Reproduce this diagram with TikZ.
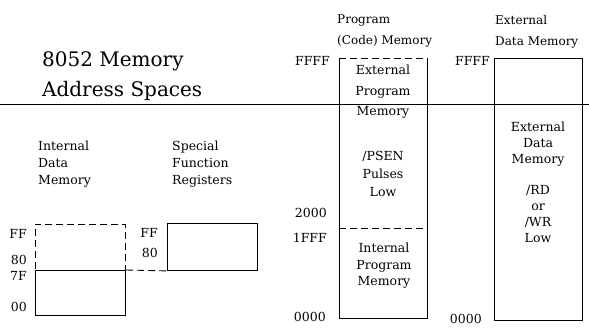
\documentclass[tikz,border=0pt]{standalone}
\usepackage{fontspec}
\setmainfont{DejaVu Serif}
\usetikzlibrary{positioning}
\tikzset{
  lbl/.style={align=left,inner sep=0pt,anchor=north west,font=\fontsize{12.5}{17}\selectfont},
  boxtxt/.style={align=center,inner sep=0pt,font=\fontsize{12.5}{#1}\selectfont},
  addr/.style={anchor=east,inner sep=0pt,font=\fontsize{12.5}{15}\selectfont},
  membox/.style={inner sep=0pt,anchor=north west},
  edge/.style={line width=.9pt},
  dashedge/.style={edge,dash pattern=on 7pt off 4pt}
}

\begin{document}
\begin{tikzpicture}[x=1pt,y=-1pt]
  \useasboundingbox (0,0) rectangle (589,327);
  % title and rule
  \node[anchor=base west,inner sep=0pt,font=\fontsize{20}{30}\selectfont] (ttl1) at (42,66) {8052 Memory};
  \node[anchor=base west,inner sep=0pt,font=\fontsize{20}{30}\selectfont] (ttl2) at (42,96) {Address Spaces};
  \coordinate (ruleL) at (0,104);
  \coordinate (ruleR) at (589,104);
  \draw[edge] (ruleL) -- (ruleR);

  % headings
  \node[lbl] (idmlbl) at (38,141) {Internal\\Data\\Memory};
  \node[lbl] (sfrlbl) at (172,141) {Special\\Function\\Registers};
  \node[lbl,font=\fontsize{12}{21}\selectfont] (pgmlbl) at (337,15) {Program\\(Code) Memory};
  \node[lbl,font=\fontsize{12}{21}\selectfont] (xdmlbl) at (495,15) {External\\Data Memory};

  % internal data memory and SFR
  \node[membox,draw,dashedge,minimum width=90,minimum height=46] (idhi) at (35,224) {};
  \node[membox,draw,edge,minimum width=90,minimum height=45] (idlo) at (35,270) {};
  \node[membox,draw,edge,minimum width=90,minimum height=47] (sfr) at (167,223) {};
  \draw[dashedge] (idlo.north east) -- (sfr.south west);
  \node[addr] (idFF) at (27,234) {FF};
  \node[addr] (id80) at (27,260) {80};
  \node[addr] (id7F) at (27,276) {7F};
  \node[addr] (id00) at (27,307) {00};
  \node[addr] (sfrFF) at (158,233) {FF};
  \node[addr] (sfr80) at (158,253) {80};

  % program memory
  \node[membox,minimum width=88,minimum height=260] (pgm) at (339,58) {};
  \draw[edge] (pgm.north west) -- (pgm.south west) -- (pgm.south east) -- (pgm.north east);
  \draw[dashedge] (pgm.north west) -- (pgm.north east);
  \coordinate (split) at (339,228);
  \draw[dashedge] (pgm.west |- split) -- (pgm.east |- split);
  \node[boxtxt=20.5] (pgmext) at (383,92) {External\\Program\\Memory};
  \node[boxtxt=18] (psen) at (383,174) {/PSEN\\Pulses\\Low};
  \node[boxtxt=16.5] (pgmint) at (384,266) {Internal\\Program\\Memory};
  \node[addr] (pgmFFFF) at (330,61) {FFFF};
  \node[addr] (pgm2000) at (327,213) {2000};
  \node[addr] (pgm1FFF) at (327,238) {1FFF};
  \node[addr] (pgm0000) at (326,317) {0000};

  % external data memory
  \node[membox,draw,edge,minimum width=88,minimum height=262] (xdm) at (494,58) {};
  \node[boxtxt=16] (xdmtxt) at (538,144) {External\\Data\\Memory};
  \node[boxtxt=16] (rdwr) at (538,214) {/RD\\or\\/WR\\Low};
  \node[addr] (xdmFFFF) at (490,61) {FFFF};
  \node[addr] (xdm0000) at (482,319) {0000};
\end{tikzpicture}
\end{document}
